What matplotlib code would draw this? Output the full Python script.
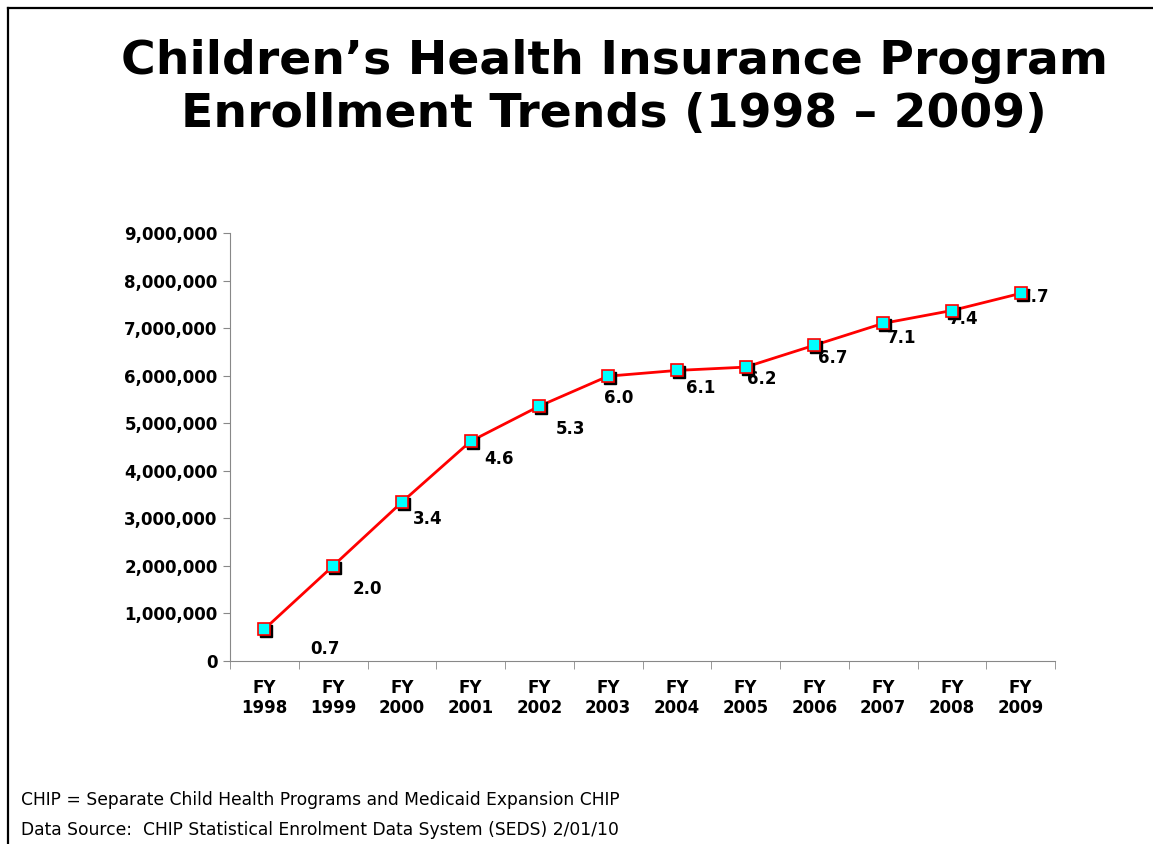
import matplotlib
matplotlib.use("Agg")
import matplotlib.pyplot as plt
import matplotlib.transforms as mtransforms
from matplotlib.ticker import FuncFormatter, MultipleLocator

# enrollment by fiscal year
years = ["FY\n1998", "FY\n1999", "FY\n2000", "FY\n2001", "FY\n2002", "FY\n2003",
         "FY\n2004", "FY\n2005", "FY\n2006", "FY\n2007", "FY\n2008", "FY\n2009"]
enrollment = [670000, 2000000, 3340000, 4620000, 5360000, 5990000,
              6110000, 6180000, 6640000, 7100000, 7370000, 7730000]
labels = ["0.7", "2.0", "3.4", "4.6", "5.3", "6.0", "6.1", "6.2", "6.7", "7.1", "7.4", "7.7"]
# where each label sits relative to its point (pixels, right / down)
label_offsets = [(61, 20), (34, 23), (26, 17), (28, 18), (31, 23), (11, 22),
                 (24, 18), (16, 12), (18, 13), (19, 15), (12, 8), (14, 4)]

fig = plt.figure(figsize=(11.53, 8.44), dpi=100)

# slide border (top and left edge)
fig.add_artist(plt.Line2D([8 / 1153, 1], [1 - 8 / 844, 1 - 8 / 844], color="black", lw=1.6,
                          transform=fig.transFigure))
fig.add_artist(plt.Line2D([8 / 1153, 8 / 1153], [0, 1 - 8 / 844], color="black", lw=1.6,
                          transform=fig.transFigure))

fig.text(614 / 1153, 1 - 88 / 844, "Children\u2019s Health Insurance Program\nEnrollment Trends (1998 \u2013 2009)",
         ha="center", va="center", fontsize=34, fontweight="bold", family="DejaVu Sans",
         linespacing=1.22)

ax = fig.add_axes([230 / 1153, 1 - 661 / 844, 825 / 1153, 428 / 844])
x = list(range(len(years)))

shadow = ax.transData + mtransforms.ScaledTranslation(2 / 100, -2 / 100, fig.dpi_scale_trans)
ax.plot(x, enrollment, color="red", lw=2, zorder=2)
ax.plot(x, enrollment, ls="none", marker="s", ms=8, color="black", transform=shadow, zorder=3)
ax.plot(x, enrollment, ls="none", marker="s", ms=8, mfc="#00FFFF", mec="red", mew=1.2, zorder=4)

for i, (lab, off) in enumerate(zip(labels, label_offsets)):
    ax.annotate(lab, (x[i], enrollment[i]), xytext=(off[0], -off[1]), textcoords="offset pixels",
                ha="center", va="center", fontsize=12, fontweight="bold", family="DejaVu Sans")

ax.set_xlim(-0.5, len(years) - 0.5)
ax.set_ylim(0, 9000000)
ax.yaxis.set_major_locator(MultipleLocator(1000000))
ax.yaxis.set_major_formatter(FuncFormatter(lambda v, p: f"{int(v):,}"))
ax.set_xticks(x)
ax.set_xticklabels(years, fontsize=12, fontweight="bold", linespacing=1.15)
ax.set_xticks([i - 0.5 for i in range(len(years) + 1)], minor=True)
ax.tick_params(axis="x", which="major", length=0, pad=13)
ax.tick_params(axis="x", which="minor", length=6, color="#888888", direction="out")
ax.tick_params(axis="y", length=5, color="#888888", labelsize=12, pad=4)
for t in ax.get_yticklabels():
    t.set_fontweight("bold")
for s in ["top", "right"]:
    ax.spines[s].set_visible(False)
for s in ["left", "bottom"]:
    ax.spines[s].set_color("#888888")

fig.text(21 / 1153, 1 - 800 / 844, "CHIP = Separate Child Health Programs and Medicaid Expansion CHIP",
         fontsize=12.3, va="center")
fig.text(21 / 1153, 1 - 830 / 844, "Data Source:  CHIP Statistical Enrolment Data System (SEDS) 2/01/10",
         fontsize=12.3, va="center")

fig.savefig("out.png", dpi=100)
